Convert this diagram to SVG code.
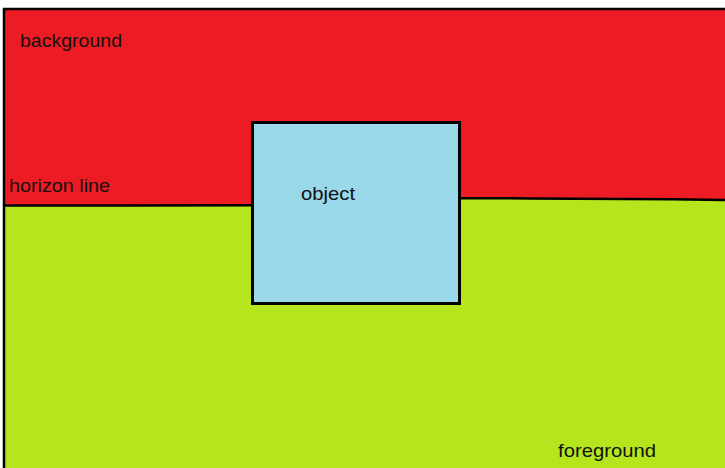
<svg xmlns="http://www.w3.org/2000/svg" width="725" height="468" viewBox="0 0 725 468">
  <style>
    .lbl { font-family: "Liberation Sans", Arial, sans-serif; font-size: 19px; fill: #111; }
    .edge { fill: none; stroke: #000; stroke-width: 2.5; }
  </style>
  <rect x="0" y="0" width="725" height="468" fill="#ffffff"/>
  <g id="background">
    <rect x="4" y="9" width="721" height="200" fill="#ED1C24"/>
  </g>
  <g id="foreground">
    <polygon points="4,205.5 252,205.5 460,198.3 530,198.6 672,199.5 725,200 725,468 4,468" fill="#B5E61D"/>
  </g>
  <g id="frame">
    <polyline class="edge" points="4,468 4,9 725,9" stroke-width="2"/>
  </g>
  <g id="horizon">
    <polyline class="edge" points="4,205.6 127,205.4 252,205.3"/>
    <polyline class="edge" points="460,198.3 530,198.4 672,199.3 725,200"/>
  </g>
  <g id="object">
    <rect x="252.5" y="122.5" width="207" height="181" fill="#99D9EA" stroke="#000" stroke-width="3"/>
  </g>
  <g id="labels">
    <text class="lbl" x="20" y="47" textLength="102" lengthAdjust="spacingAndGlyphs">background</text>
    <text class="lbl" x="9" y="192" textLength="101" lengthAdjust="spacingAndGlyphs">horizon line</text>
    <text class="lbl" x="301" y="200" textLength="54" lengthAdjust="spacingAndGlyphs">object</text>
    <text class="lbl" x="558" y="457" textLength="98" lengthAdjust="spacingAndGlyphs">foreground</text>
  </g>
</svg>
